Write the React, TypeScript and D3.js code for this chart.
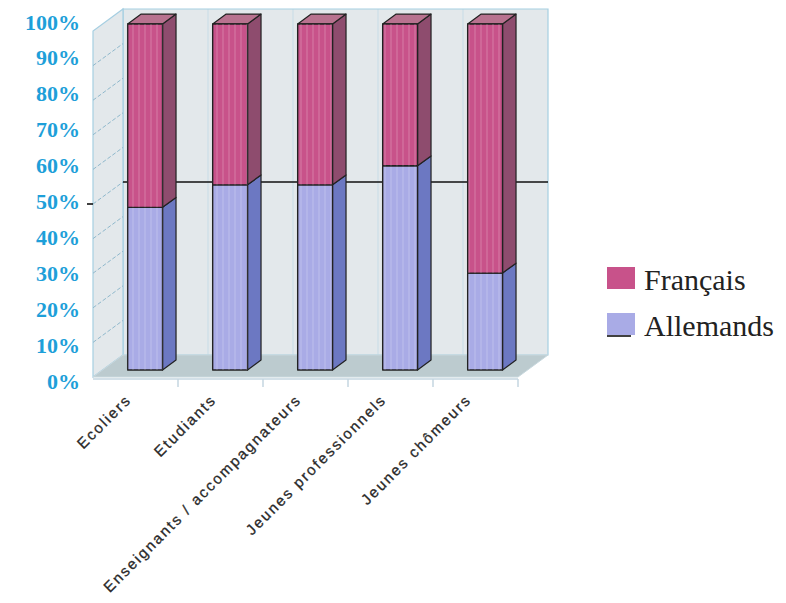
import React from "react";
import * as d3 from "d3";

const categories = [
  "Ecoliers",
  "Etudiants",
  "Enseignants / accompagnateurs",
  "Jeunes professionnels",
  "Jeunes chômeurs",
];
const allemands = [47, 53.5, 53.5, 59, 28];
const francais = [53, 46.5, 46.5, 41, 72];
const yTicks = [0, 10, 20, 30, 40, 50, 60, 70, 80, 90, 100];
const referenceLine = 50;
const seriesNames = ["Français", "Allemands"];

const W = 786;
const H = 603;
const DX = 30;
const DY = -22;
const F0 = 0.32;
const F1 = 0.77;

const COL = {
  frFront: "#c8528a",
  frSide: "#8e4c6e",
  frTop: "#b8728f",
  deFront: "#a9abe6",
  deSide: "#6c78c2",
  deTop: "#8e94d4",
  wall: "#e3e8eb",
  wallLine: "#a6cfe2",
  floor: "#bccbcf",
  label: "#1e9fd9",
};

export default function App() {
  const x = d3.scaleBand<string>().domain(categories).range([93, 518]).padding(0);
  const yF = d3.scaleLinear().domain([0, 100]).range([377, 31]);
  const yLab = d3.scaleLinear().domain([0, 100]).range([381, 22]);
  const bw = x.bandwidth();
  const barW = bw * 0.41;

  const P = (px: number, v: number, f: number) => [px + f * DX, yF(v) + f * DY];
  const poly = (pts: number[][]) => pts.map((p) => p.join(",")).join(" ");

  const x0 = x.range()[0];
  const x1 = x.range()[1];

  const stacks = categories.map((c, i) => {
    const segs = [
      { lo: 0, hi: allemands[i], front: COL.deFront, side: COL.deSide, top: COL.deTop },
      { lo: allemands[i], hi: allemands[i] + francais[i], front: COL.frFront, side: COL.frSide, top: COL.frTop },
    ];
    return { c, segs };
  });

  return (
    <svg
      width={W}
      height={H}
      style={{ position: "absolute", left: 0, top: 0, background: "#fff" }}
      xmlns="http://www.w3.org/2000/svg"
    >
      <defs>
        <pattern id="stripes" width="6" height="10" patternUnits="userSpaceOnUse">
          <rect x="0" y="0" width="2" height="10" fill="#ffffff" fillOpacity="0.12" />
        </pattern>
      </defs>
      {/* back wall */}
      <polygon
        points={poly([P(x0, 0, 1), P(x1, 0, 1), P(x1, 100, 1), P(x0, 100, 1)])}
        fill={COL.wall}
        stroke={COL.wallLine}
        strokeWidth={1.2}
      />
      {categories.map((c, i) =>
        i === 0 ? null : (
          <line
            key={"bv" + i}
            x1={P(x(c)!, 0, 1)[0]}
            y1={P(x(c)!, 0, 1)[1]}
            x2={P(x(c)!, 100, 1)[0]}
            y2={P(x(c)!, 100, 1)[1]}
            stroke={COL.wallLine}
            strokeOpacity={0.45}
            strokeWidth={1}
          />
        )
      )}
      {/* left wall */}
      <polygon
        points={poly([P(x0, 0, 0), P(x0, 0, 1), P(x0, 100, 1), P(x0, 100, 0)])}
        fill={COL.wall}
        stroke={COL.wallLine}
        strokeWidth={1.2}
      />
      {yTicks
        .filter((t) => t > 0 && t < 100)
        .map((t) => (
          <line
            key={"lw" + t}
            x1={P(x0, t, 0)[0]}
            y1={P(x0, t, 0)[1]}
            x2={P(x0, t, 1)[0]}
            y2={P(x0, t, 1)[1]}
            stroke="#8fb8cc"
            strokeDasharray="4,2"
            strokeWidth={1}
          />
        ))}
      {/* floor */}
      <polygon
        points={poly([P(x0, 0, 0), P(x1, 0, 0), P(x1, 0, 1), P(x0, 0, 1)])}
        fill={COL.floor}
        stroke="#c8d8de"
        strokeWidth={1}
      />
      {/* front floor edge & ticks */}
      <line x1={x0} y1={yF(0) + 2} x2={x1} y2={yF(0) + 2} stroke="#c4d6e0" strokeWidth={1.5} />
      {categories.map((c, i) => (
        <line
          key={"tk" + i}
          x1={x(c)! + bw}
          y1={yF(0) + 2}
          x2={x(c)! + bw}
          y2={yF(0) + 10}
          stroke="#c4d6e0"
          strokeWidth={1.5}
        />
      ))}
      {/* 50% reference line on back wall */}
      <line
        x1={P(x0, referenceLine, 1)[0]}
        y1={P(x0, referenceLine, 1)[1]}
        x2={P(x1, referenceLine, 1)[0]}
        y2={P(x1, referenceLine, 1)[1]}
        stroke="#111"
        strokeWidth={1.6}
      />
      <line
        x1={x0 - 6}
        y1={yF(referenceLine)}
        x2={x0}
        y2={yF(referenceLine)}
        stroke="#111"
        strokeWidth={1.6}
      />
      {/* bars */}
      {stacks.map(({ c, segs }) => {
        const l = x(c)! + (bw - barW) / 2;
        const r = l + barW;
        return (
          <g key={c}>
            {segs.map((s, k) => {
              const isTop = k === segs.length - 1;
              const fBL = P(l, s.lo, F0);
              const fBR = P(r, s.lo, F0);
              const fTR = P(r, s.hi, F0);
              const fTL = P(l, s.hi, F0);
              const bBR = P(r, s.lo, F1);
              const bTR = P(r, s.hi, F1);
              const bTL = P(l, s.hi, F1);
              return (
                <g key={k}>
                  <polygon
                    points={poly([fBR, bBR, bTR, fTR])}
                    fill={s.side}
                    stroke="#222"
                    strokeWidth={1.2}
                    strokeLinejoin="round"
                  />
                  {isTop && (
                    <polygon
                      points={poly([fTL, fTR, bTR, bTL])}
                      fill={s.top}
                      stroke="#222"
                      strokeWidth={1.2}
                      strokeLinejoin="round"
                    />
                  )}
                  <polygon
                    points={poly([fBL, fBR, fTR, fTL])}
                    fill={s.front}
                    stroke="#222"
                    strokeWidth={1.4}
                    strokeLinejoin="round"
                  />
                  <polygon points={poly([fBL, fBR, fTR, fTL])} fill="url(#stripes)" stroke="none" />
                </g>
              );
            })}
          </g>
        );
      })}
      {/* y labels */}
      {yTicks.map((t) => (
        <text
          key={"yl" + t}
          x={80}
          y={yLab(t)}
          textAnchor="end"
          dominantBaseline="central"
          fontFamily="'Liberation Serif', 'Times New Roman', serif"
          fontWeight="bold"
          fontSize={22}
          fill={COL.label}
        >
          {t}%
        </text>
      ))}
      {/* category labels */}
      {categories.map((c) => {
        const cx = x(c)! + bw / 2 - 6;
        const cy = 398;
        return (
          <text
            key={"cl" + c}
            transform={`translate(${cx},${cy}) rotate(-45)`}
            textAnchor="end"
            fontFamily="'Liberation Sans', Arial, sans-serif"
            fontSize={15}
            letterSpacing={2}
            fill="#2a2a2a"
            stroke="#2a2a2a"
            strokeWidth={0.3}
            dominantBaseline="middle"
          >
            {c}
          </text>
        );
      })}
      {/* legend */}
      {seriesNames.map((n, i) => {
        const ly = 267 + i * 46;
        return (
          <g key={"lg" + n}>
            <rect
              x={607}
              y={ly}
              width={28}
              height={22}
              fill={i === 0 ? COL.frFront : COL.deFront}
            />
            {i === 1 && <line x1={607} x2={631} y1={ly + 23} y2={ly + 23} stroke="#111" strokeWidth={1.6} />}
            <text
              x={644}
              y={ly + 23}
              fontFamily="'Liberation Serif', 'Times New Roman', serif"
              fontSize={30}
              fill="#222"
            >
              {n}
            </text>
          </g>
        );
      })}
    </svg>
  );
}
